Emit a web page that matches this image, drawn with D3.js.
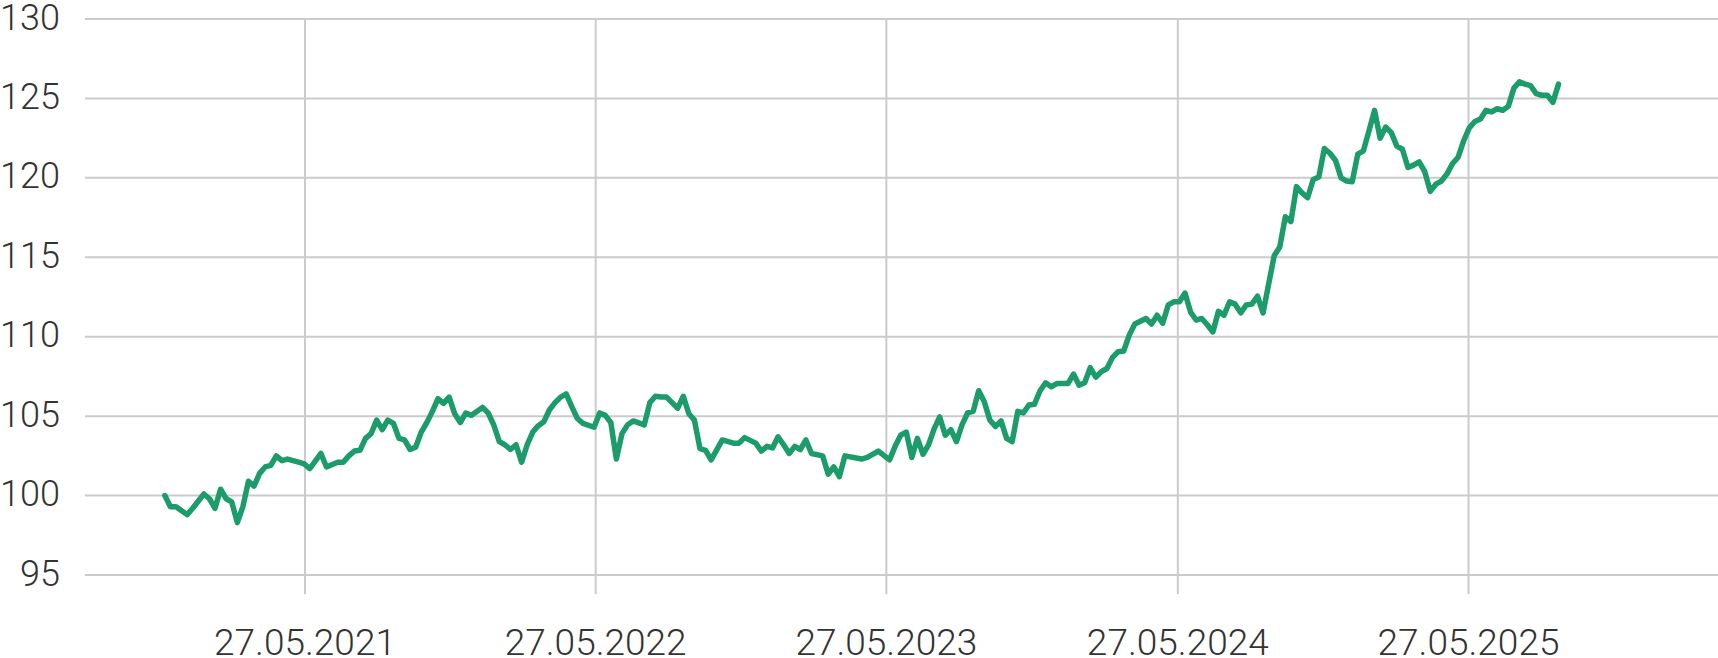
<!DOCTYPE html>
<html>
<head>
<meta charset="utf-8">
<script src="https://cdn.jsdelivr.net/npm/d3@7"></script>
<style>
  html, body { margin: 0; padding: 0; background: #ffffff; }
  svg { display: block; }
  text { font-family: Roboto, "Noto Sans", sans-serif; font-weight: 300; fill: #333333; }
</style>
</head>
<body>
<svg id="chart" width="1718" height="658"></svg>
<script>
const dates = [
"2020-12-02","2020-12-09","2020-12-16","2020-12-30","2021-01-06","2021-01-20","2021-01-27","2021-02-03","2021-02-10","2021-02-17",
"2021-02-24","2021-03-03","2021-03-10","2021-03-17","2021-03-24","2021-03-31","2021-04-07","2021-04-14","2021-04-21","2021-04-28",
"2021-05-05","2021-05-19","2021-05-26","2021-06-02","2021-06-16","2021-06-23","2021-07-07","2021-07-14","2021-07-21","2021-07-28",
"2021-08-04","2021-08-11","2021-08-18","2021-08-25","2021-09-01","2021-09-08","2021-09-15","2021-09-22","2021-09-29","2021-10-06",
"2021-10-13","2021-10-20","2021-10-27","2021-11-03","2021-11-10","2021-11-17","2021-11-24","2021-12-01","2021-12-08","2021-12-15",
"2021-12-22","2022-01-05","2022-01-12","2022-01-19","2022-01-26","2022-02-02","2022-02-09","2022-02-16","2022-02-23","2022-03-02",
"2022-03-09","2022-03-16","2022-03-23","2022-03-30","2022-04-06","2022-04-13","2022-04-20","2022-04-27","2022-05-04","2022-05-11",
"2022-05-25","2022-06-01","2022-06-08","2022-06-15","2022-06-22","2022-06-29","2022-07-06","2022-07-13","2022-07-27","2022-08-03",
"2022-08-10","2022-08-17","2022-08-24","2022-09-07","2022-09-14","2022-09-21","2022-09-28","2022-10-05","2022-10-12","2022-10-19",
"2022-11-02","2022-11-16","2022-11-23","2022-11-30","2022-12-14","2022-12-21","2022-12-28","2023-01-04","2023-01-11","2023-01-18",
"2023-01-25","2023-02-01","2023-02-08","2023-02-15","2023-02-22","2023-03-08","2023-03-15","2023-03-22","2023-03-29","2023-04-05",
"2023-04-26","2023-05-03","2023-05-17","2023-05-31","2023-06-07","2023-06-14","2023-06-21","2023-06-28","2023-07-05","2023-07-12",
"2023-07-19","2023-07-26","2023-08-02","2023-08-09","2023-08-16","2023-08-23","2023-08-30","2023-09-06","2023-09-13","2023-09-20",
"2023-09-27","2023-10-04","2023-10-11","2023-10-18","2023-10-25","2023-11-01","2023-11-08","2023-11-15","2023-11-22","2023-11-29",
"2023-12-06","2023-12-13","2023-12-20","2023-12-27","2024-01-10","2024-01-17","2024-01-24","2024-01-31","2024-02-07","2024-02-14",
"2024-02-21","2024-02-28","2024-03-06","2024-03-13","2024-03-20","2024-03-27","2024-04-03","2024-04-17","2024-04-24","2024-05-01",
"2024-05-08","2024-05-15","2024-05-22","2024-05-29","2024-06-05","2024-06-12","2024-06-19","2024-06-26","2024-07-03","2024-07-10",
"2024-07-17","2024-07-24","2024-07-31","2024-08-07","2024-08-14","2024-08-21","2024-08-28","2024-09-04","2024-09-11","2024-09-25",
"2024-10-02","2024-10-09","2024-10-16","2024-10-23","2024-10-30","2024-11-06","2024-11-13","2024-11-20","2024-11-27","2024-12-04",
"2024-12-11","2024-12-18","2024-12-25","2025-01-01","2025-01-08","2025-01-15","2025-01-22","2025-01-29","2025-02-05","2025-02-12",
"2025-02-19","2025-02-26","2025-03-05","2025-03-12","2025-03-19","2025-03-26","2025-04-02","2025-04-09","2025-04-16","2025-04-23",
"2025-04-30","2025-05-07","2025-05-14","2025-05-21","2025-05-28","2025-06-04","2025-06-11","2025-06-18","2025-06-25","2025-07-02",
"2025-07-09","2025-07-16","2025-07-23","2025-07-30","2025-08-06","2025-08-13","2025-08-20","2025-08-27","2025-09-03","2025-09-10",
"2025-09-17"
];

const values = [
100.0,99.3,99.3,98.8,99.2,100.1,99.8,99.2,100.4,99.8,
99.6,98.3,99.3,100.9,100.6,101.4,101.8,101.9,102.5,102.2,
102.3,102.1,102.0,101.7,102.65,101.8,102.1,102.1,102.5,102.8,
102.85,103.6,103.9,104.75,104.15,104.75,104.55,103.6,103.5,102.9,
103.05,104.0,104.6,105.3,106.1,105.8,106.2,105.15,104.6,105.2,
105.05,105.55,105.2,104.45,103.4,103.2,102.9,103.2,102.1,103.2,
104.0,104.4,104.65,105.4,105.85,106.2,106.4,105.6,104.85,104.55,
104.3,105.2,105.05,104.6,102.3,103.9,104.45,104.7,104.45,105.85,
106.25,106.2,106.2,105.5,106.25,105.15,104.75,102.95,102.85,102.25,
103.5,103.3,103.3,103.65,103.3,102.8,103.1,103.0,103.7,103.2,
102.65,103.1,102.9,103.5,102.65,102.5,101.35,101.8,101.2,102.5,
102.3,102.4,102.8,102.25,103.1,103.8,104.0,102.4,103.6,102.6,
103.2,104.2,104.95,103.8,104.15,103.4,104.45,105.2,105.3,106.6,
105.9,104.75,104.35,104.7,103.6,103.4,105.3,105.2,105.7,105.75,
106.6,107.1,106.85,107.05,107.05,107.65,106.95,107.1,108.05,107.45,
107.8,108.0,108.7,109.05,109.1,110.1,110.8,111.15,110.8,111.35,
110.85,112.0,112.2,112.2,112.75,111.55,111.05,111.15,110.75,110.3,
111.6,111.35,112.2,112.05,111.5,112.0,112.05,112.55,111.5,115.1,
115.65,117.55,117.25,119.45,119.05,118.75,119.9,120.05,121.85,121.55,
121.1,120.0,119.8,119.75,121.5,121.7,122.95,124.25,122.5,123.2,
122.85,122.0,121.8,120.65,120.8,121.0,120.4,119.15,119.6,119.8,
120.25,120.9,121.3,122.35,123.15,123.55,123.7,124.25,124.15,124.35,
124.25,124.5,125.65,126.05,125.9,125.8,125.3,125.2,125.2,124.75,
125.9
];

const yTicks = [95, 100, 105, 110, 115, 120, 125, 130];
const xTickDates = ["2021-05-27", "2022-05-27", "2023-05-27", "2024-05-27", "2025-05-27"];

const parse = d3.utcParse("%Y-%m-%d");
const fmt = d3.utcFormat("%d.%m.%Y");
const data = dates.map((d, i) => ({ date: parse(d), value: values[i] }));
const xTicks = xTickDates.map(parse);

const plotLeft = 85, plotRight = 1718, plotTop = 19, plotBottom = 575;

const x = d3.scaleUtc()
  .domain([xTicks[0], xTicks[xTicks.length - 1]])
  .range([305, 1468.5]);
const y = d3.scaleLinear().domain([95, 130]).range([plotBottom, plotTop]);

const svg = d3.select("#chart");
const gridColor = "#cbcbcb";

// horizontal gridlines
svg.append("g").selectAll("line").data(yTicks).join("line")
  .attr("x1", plotLeft).attr("x2", plotRight)
  .attr("y1", d => y(d)).attr("y2", d => y(d))
  .attr("stroke", gridColor).attr("stroke-width", 2);

// vertical gridlines
svg.append("g").selectAll("line").data(xTicks).join("line")
  .attr("x1", d => x(d)).attr("x2", d => x(d))
  .attr("y1", plotTop).attr("y2", plotBottom + 19)
  .attr("stroke", gridColor).attr("stroke-width", 2);

// y labels
svg.append("g").selectAll("text").data(yTicks).join("text")
  .attr("x", 60).attr("y", d => y(d) + 10.5)
  .attr("text-anchor", "end")
  .attr("font-size", 36)
  .text(d => d);

// x labels
svg.append("g").selectAll("text").data(xTicks).join("text")
  .attr("x", d => x(d)).attr("y", 655)
  .attr("text-anchor", "middle")
  .attr("font-size", 37)
  .text(d => fmt(d));

// line
const line = d3.line().x(d => x(d.date)).y(d => y(d.value));
svg.append("path").datum(data)
  .attr("d", line)
  .attr("fill", "none")
  .attr("stroke", "#1b9c6a")
  .attr("stroke-width", 5.5)
  .attr("stroke-linejoin", "round")
  .attr("stroke-linecap", "round");
</script>
</body>
</html>
